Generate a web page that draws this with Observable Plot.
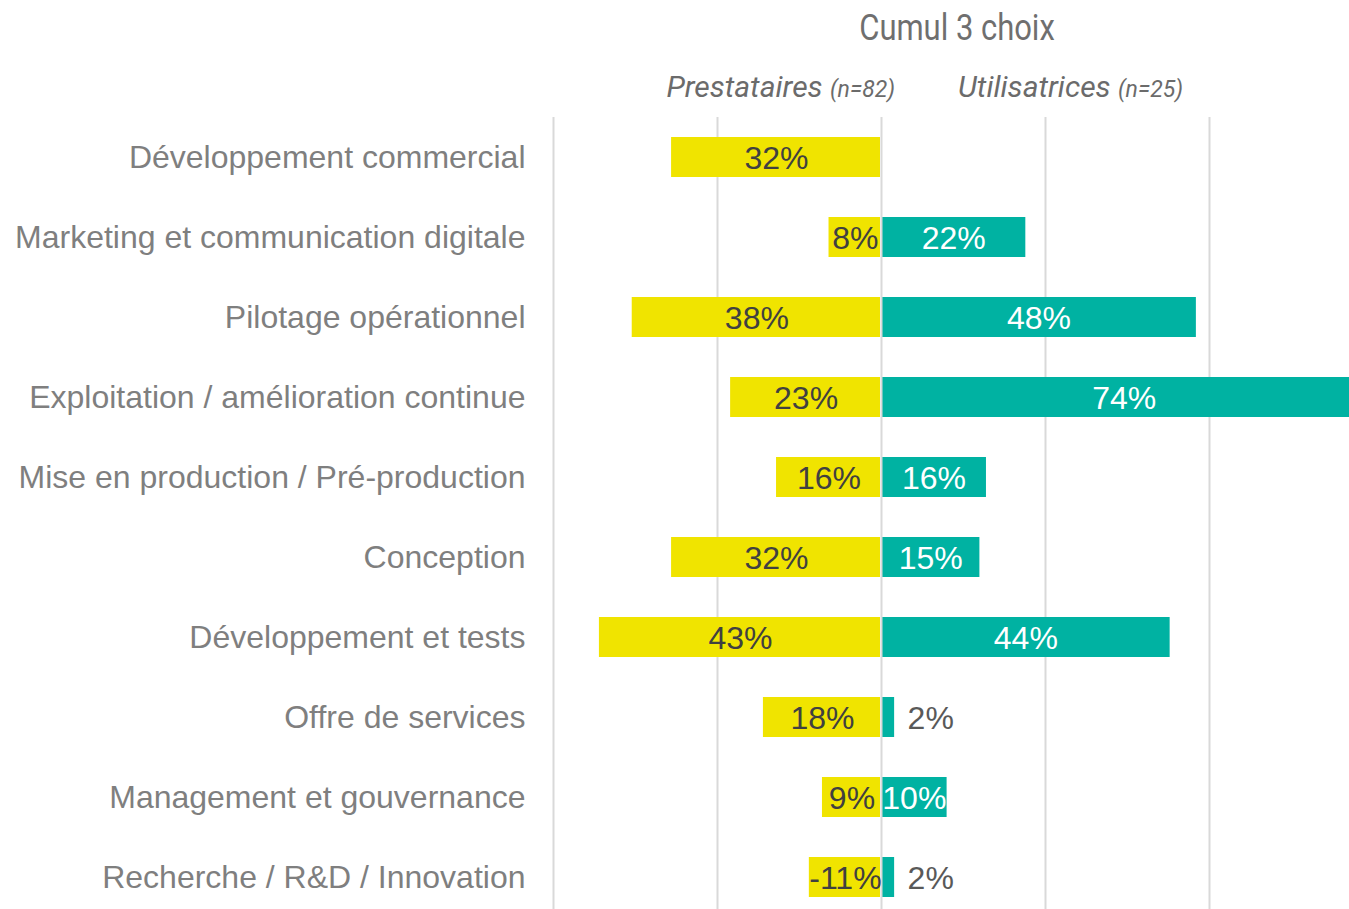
<!DOCTYPE html>
<html>
<head>
<meta charset="utf-8">
<script src="https://cdn.jsdelivr.net/npm/d3@7"></script>
<script src="https://cdn.jsdelivr.net/npm/@observablehq/plot@0.6"></script>
<style>
  html, body { margin: 0; padding: 0; background: white; overflow: hidden; width: 1349px; height: 909px; }
  #wrap { position: relative; width: 1349px; height: 909px; }
  #chart { position: absolute; left: 0; top: 0; }
  .hdr { position: absolute; white-space: nowrap; color: #6b6b6b; }
  #title { left: 957px; top: 7px; transform: translateX(-50%) scaleX(0.86); font-family: Roboto, sans-serif; font-weight: 400; font-size: 36px; color: #6f6f6f; }
  .sub { top: 69px; font-family: Roboto, sans-serif; font-style: italic; font-size: 30px; }
  .sub small { font-size: 23px; }
  #presta { right: calc(1349px - 895px); }
  #utili { left: 958px; }
</style>
</head>
<body>
<div id="wrap">
  <div id="chart"></div>
  <div class="hdr" id="title">Cumul 3 choix</div>
  <div class="hdr sub" id="presta">Prestataires <small>(n=82)</small></div>
  <div class="hdr sub" id="utili">Utilisatrices <small>(n=25)</small></div>
</div>
<script>
const categories = [
  "Développement commercial",
  "Marketing et communication digitale",
  "Pilotage opérationnel",
  "Exploitation / amélioration continue",
  "Mise en production / Pré-production",
  "Conception",
  "Développement et tests",
  "Offre de services",
  "Management et gouvernance",
  "Recherche / R&D / Innovation"
];
const prestataires = [0.32, 0.08, 0.38, 0.23, 0.16, 0.32, 0.43, 0.18, 0.09, 0.11];
const prestLabels = ["32%", "8%", "38%", "23%", "16%", "32%", "43%", "18%", "9%", "-11%"];
const utilisatrices = [null, 0.22, 0.48, 0.74, 0.16, 0.15, 0.44, 0.02, 0.10, 0.02];
const utiliLabels = ["", "22%", "48%", "74%", "16%", "15%", "44%", "2%", "10%", "2%"];
const gridTicks = [-0.5, -0.25, 0, 0.25, 0.5];

const rows = categories.map((c, i) => ({
  cat: c,
  p: prestataires[i],
  pl: prestLabels[i],
  u: utilisatrices[i],
  ul: utiliLabels[i]
}));
const uRows = rows.filter(d => d.u != null);
const inside = uRows.filter(d => d.u >= 0.05);
const outside = uRows.filter(d => d.u < 0.05);

const YELLOW = "#f0e400";
const TEAL = "#00b2a2";

const chart = Plot.plot({
  width: 1349,
  height: 917,
  marginTop: 117,
  marginBottom: 0,
  marginLeft: 553,
  marginRight: 0,
  style: { fontFamily: "'Liberation Sans', Arial, sans-serif", fontSize: "32px", background: "white", overflow: "visible" },
  x: { domain: [-0.5, 0.5], range: [553, 1209], axis: null },
  y: { domain: categories, paddingInner: 0.5, paddingOuter: 0.25, label: null },
  marks: [
    Plot.ruleX(gridTicks.filter(t => t !== 0), { stroke: "#d9d9d9", strokeWidth: 2 }),
    Plot.barX(rows, { y: "cat", x1: () => 0, x2: d => -d.p, fill: YELLOW, insetRight: 1 }),
    Plot.barX(uRows, { y: "cat", x1: () => 0, x2: d => d.u, fill: TEAL, insetLeft: 1 }),
    Plot.ruleX([0], { stroke: "#d9d9d9", strokeWidth: 2 }),
    Plot.text(rows, { y: "cat", x: d => -d.p / 2, text: "pl", fill: "#404040", fontSize: 32, dy: 1 }),
    Plot.text(inside, { y: "cat", x: d => d.u / 2, text: "ul", fill: "white", fontSize: 32, dy: 1 }),
    Plot.text(outside, { y: "cat", x: d => d.u, text: "ul", fill: "#595959", fontSize: 32, textAnchor: "start", dx: 13, dy: 1 }),
    Plot.axisY({ tickSize: 0, tickPadding: 28, fontSize: 32, color: "#7f7f7f", label: null })
  ]
});
document.getElementById("chart").appendChild(chart);
</script>
</body>
</html>
